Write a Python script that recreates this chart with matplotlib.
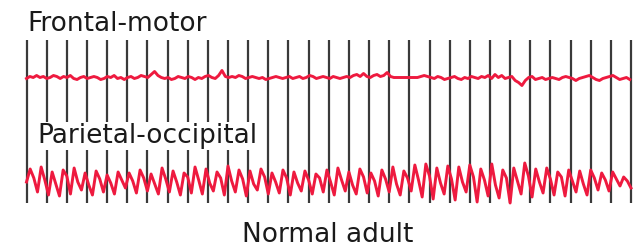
#EEG trace sketch - normal adult
import numpy as np
from matplotlib import pyplot as plt

#Channel names and caption
channels = ["Frontal-motor", "Parietal-occipital"]
caption = "Normal adult"

#Seconds shown (one marker line per second)
seconds = 30

#Frontal-motor trace, deflection (px, up positive)
frontal = [0, 2, 1, 3, 1, 2, 0, 1, 3, 2, 0, 2, 1, 3, 0, -1, 1, 2, 0, 1,
           2, 1, -1, 0, 2, 1, 3, 0, 1, -1, 1, 2, 0, 1, 3, 2, 1, 4, 7, 3,
           1, 0, 1, -1, 0, 2, 1, 0, 2, 1, -1, 1, 0, 2, 3, 1, 0, 3, 8, 2,
           1, 2, 1, 3, 2, 0, 1, 2, 1, 0, 1, -1, 0, 1, 2, 1, 0, 1, 2, 0,
           1, 2, 0, 1, 3, 2, 0, 1, 2, 1, 0, 2, 1, 0, 1, 2, 1, 3, 4, 2,
           5, 2, 1, 3, 4, 2, 3, 6, 2, 1, 1, 1, 1, 1, 1, 1, 1, 2, 3, 2,
           1, 0, 2, 1, -1, 0, 1, 2, 0, -1, 1, 0, 2, 1, 0, 2, 1, 3, 0, 4,
           1, 3, 0, 1, 2, -2, -4, -7, -2, 1, 2, -1, 0, 1, -1, 0, 1, 0, -1, 1,
           2, 1, 0, -2, 0, 1, 2, 3, 1, -1, -2, 0, 1, 2, 3, 1, -1, 0, 1, -1]

#Parietal-occipital trace (alpha rhythm), same units
parietal = [0, 13, 4, -10, 15, 2, -13, 10, -2, -14, 12, 6, -12, 14, 0, -8, 9, -3,
            -13, 11, 3, -10, 7, -1, -12, 10, 2, -6, 9, 1, -11, 12, 4, -9, 8, -2,
            -12, 14, 3, -10, 11, 0, -13, 9, 5, -11, 15, 2, -12, 13, -1, -9, 10, 4,
            -13, 16, 1, -10, 12, 3, -14, 11, -2, -8, 13, 5, -12, 9, 0, -11, 12, 4,
            -13, 10, -1, -9, 11, 2, -12, 8, 4, -10, 12, 0, -13, 14, 2, -9, 10, -3,
            -12, 13, 5, -11, 9, 1, -14, 12, 3, -10, 15, -2, -13, 11, 4, -9, 17, 2,
            -15, 18, 6, -17, 14, -1, -12, 16, 3, -18, 15, 0, -10, 17, 5, -20, 13, 2,
            -14, 18, -3, -16, 12, 4, -21, 14, 1, -12, 19, 6, -15, 13, 0, -11, 14, 3,
            -13, 10, 5, -14, 12, 1, -10, 11, -2, -13, 12, 4, -8, 9, 2, -9, 10, 3,
            -4, 5, 1, -6]

W, H = 641, 250
fig = plt.figure(figsize=(W/100, H/100), dpi=100)
#axes spans the marker lines horizontally, y in pixel rows
ax = fig.add_axes([26.5/W, 0, (631-26.5)/W, 1])
ax.set_xlim(0, seconds)
ax.set_ylim(H, 0)
ax.axis('off')

ax.vlines(np.arange(seconds+1), 40, 203, color='#3a3a3a', lw=1.6, clip_on=False)

red = '#ee1a3f'
t1 = np.linspace(0, seconds*0.998, len(frontal))
ax.plot(t1, 78.5 - np.array(frontal), color=red, lw=2.1, solid_joinstyle='round', clip_on=False)
t2 = np.linspace(0, seconds, len(parietal))
ax.plot(t2, 182 - np.array(parietal), color=red, lw=2.1, solid_joinstyle='round', clip_on=False)

font = dict(family='DejaVu Sans', size=19, color='#1a1a1a', ha='left', va='baseline')
fig.text(27/W, 1 - 31/H, channels[0], **font)
fig.text(37/W, 1 - 143/H, channels[1], bbox=dict(facecolor='white', edgecolor='none', pad=1), **font)
fig.text(242/W, 1 - 242/H, caption, **font)

fig.savefig('out.png', dpi=100)
